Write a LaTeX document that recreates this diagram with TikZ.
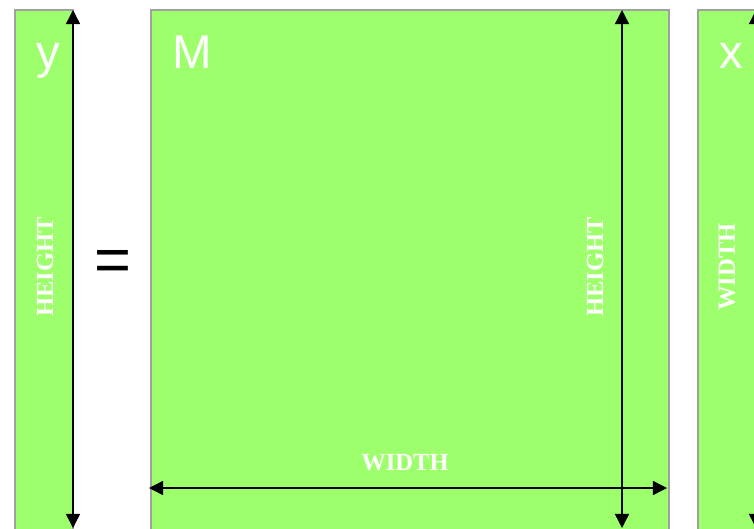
\documentclass[tikz,border=0pt]{standalone}
\usepackage{fontspec}
\setmainfont{Liberation Serif}
\newfontfamily\etichetta{Liberation Sans}
\usetikzlibrary{
    arrows.meta,        % frecce moderne
    positioning         % posizionamento dei nodi
}

\definecolor{verdecella}{RGB}{157,255,107}
\definecolor{bordocella}{RGB}{160,160,160}

\tikzset{
    matrice/.style={draw=bordocella, line width=1pt, fill=verdecella,
        inner sep=0pt, outer sep=0pt, anchor=north west},
    quota/.style={{Triangle[length=8pt,width=8pt]}-{Triangle[length=8pt,width=8pt]},
        line width=0.8pt},
    nome/.style={text=white, anchor=base, font=\etichetta\fontsize{27}{30}\selectfont},
    misura/.style={text=white, inner sep=0pt, font=\bfseries\fontsize{14}{16}\selectfont}
}

\begin{document}
\begin{tikzpicture}[x=0.02cm, y=-0.02cm]

        \useasboundingbox (0,0) rectangle (754,528);

        % Vettore y
        \node[matrice, minimum width=1.16cm, minimum height=10.5cm] (vy) at (15,10) {};
        \node[nome] (ny) at (48,68) {y};
        \coordinate (ytop) at (73,10);
        \coordinate (ybot) at (73,528);
        \draw[quota] (ytop) -- (ybot);
        \node[misura, rotate=90] (hy) at (45,267) {HEIGHT};

        % Segno di uguale
        \node[font=\etichetta\fontsize{36}{40}\selectfont] (uguale) at (113,266) {=};

        % Matrice M
        \node[matrice, minimum width=10.36cm, minimum height=10.5cm] (mat) at (151,10) {};
        \node[nome] (nm) at (192,68) {M};
        \coordinate (mtop) at (622,10);
        \coordinate (mbot) at (622,528);
        \draw[quota] (mtop) -- (mbot);
        \node[misura, rotate=90] (hm) at (595,267) {HEIGHT};
        \coordinate (msx) at (149,488);
        \coordinate (mdx) at (667,488);
        \draw[quota] (msx) -- (mdx);
        \node[misura] (wm) at (405,463) {WIDTH};

        % Vettore x
        \node[matrice, minimum width=1.16cm, minimum height=10.5cm] (vx) at (698,10) {};
        \node[nome] (nx) at (731,68) {x};
        \coordinate (xtop) at (756,10);
        \coordinate (xbot) at (756,528);
        \draw[quota] (xtop) -- (xbot);
        \node[misura, rotate=90] (wx) at (727,267) {WIDTH};

    \end{tikzpicture}
\end{document}
